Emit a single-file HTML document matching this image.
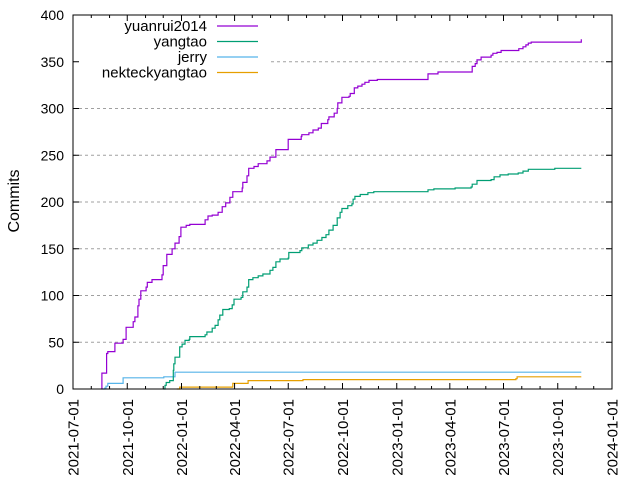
<!DOCTYPE html>
<html><head><meta charset="utf-8"><title>Commits</title>
<style>
html,body{margin:0;padding:0;background:#fff;}
svg{display:block;font-family:"Liberation Sans",Arial,sans-serif;}
</style></head>
<body>
<svg id="chart" width="640" height="480" viewBox="0 0 640 480" xmlns="http://www.w3.org/2000/svg">
<text x="0" y="0" transform="translate(19,201) rotate(-90)" text-anchor="middle" font-size="16" fill="#000">Commits</text>
</svg>
<script>
// x values are days since 2021-07-01
const startDate = "2021-07-01";
const totalDays = 914;
const xTickLabels = ["2021-07-01","2021-10-01","2022-01-01","2022-04-01","2022-07-01","2022-10-01","2023-01-01","2023-04-01","2023-07-01","2023-10-01","2024-01-01"];
const yTickValues = [0,50,100,150,200,250,300,350,400];
const seriesNames = ["yuanrui2014","yangtao","jerry","nekteckyangtao"];
const seriesColors = ["#9400d3","#009e73","#56b4e9","#e69f00"];
const endDay = 862;

const yuanruiDays = [49,49,57,59,71,85,90,102,105,110,112,115,124,126,134,151,153,159,168,173,180,183,192,198,224,229,236,246,253,259,266,271,287,288,295,298,307,314,329,334,344,365,387,388,400,407,416,421,432,434,443,448,449,456,468,470,477,483,490,495,502,516,602,619,677,682,685,692,709,712,719,726,756,763,768,772,777,862];
const yuanruiValues = [0,17,38,40,49,53,66,72,77,89,96,105,109,114,117,122,132,144,150,156,163,173,175,176,181,185,186,189,195,199,205,211,215,221,228,236,238,241,244,248,256,267,270,272,274,277,279,284,288,291,295,300,306,312,313,316,322,324,326,328,330,331,337,339,345,348,352,355,357,359,360,362,364,366,368,370,371,374];

const yangtaoDays = [153,156,158,164,170,171,173,181,185,190,197,198,224,227,236,241,246,249,254,265,270,273,285,288,295,298,305,314,322,334,339,344,351,365,366,385,388,399,407,414,422,429,434,441,448,453,456,466,473,475,478,487,500,510,602,612,648,675,677,685,709,714,724,738,755,763,772,817];
const yangtaoValues = [0,4,7,9,20,27,34,45,48,52,53,56,58,61,65,68,74,79,85,86,90,96,98,104,109,117,119,121,123,127,130,136,139,140,146,148,151,154,156,159,162,165,170,175,183,189,193,196,198,203,206,208,210,211,213,214,215,216,219,223,224,227,229,230,231,233,235,236];

const jerryDays = [48,54,56,59,85,154,173];
const jerryValues = [0,1,3,6,12,13,18];

const nekteckDays = [176,181,271,297,390,751,753];
const nekteckValues = [0,2,6,9,10,11,13];

const L=73,R=612,T=15,B=389;
const xScale = d => L + d/totalDays*(R-L);
const yScale = v => B - v/400*(B-T);
const NS="http://www.w3.org/2000/svg";
const svg=document.getElementById('chart');
function mk(tag,attrs,parent){const e=document.createElementNS(NS,tag);for(const k in attrs)e.setAttribute(k,attrs[k]);(parent||svg).appendChild(e);return e;}

yTickValues.forEach(v=>{
  if(v===0||v===400) return;
  const g=mk('line',{x1:L,x2:R,y1:yScale(v),y2:yScale(v),stroke:'#a0a0a0','stroke-width':1,'stroke-dasharray':'3,3'});
  
  
});

const allDays=[yuanruiDays,yangtaoDays,jerryDays,nekteckDays];
const allVals=[yuanruiValues,yangtaoValues,jerryValues,nekteckValues];
const seriesIds=['yuanrui2014','yangtao','jerry','nekteckyangtao'];
for(let s=3;s>=0;s--){
  const ds=allDays[s],vs=allVals[s];
  let p='M'+xScale(ds[0]).toFixed(1)+','+yScale(vs[0]).toFixed(1);
  for(let i=1;i<ds.length;i++){
    p+=' H'+xScale(ds[i]).toFixed(1)+' V'+yScale(vs[i]).toFixed(1);
  }
  p+=' H'+xScale(endDay).toFixed(1);
  const path=mk('path',{d:p,fill:'none',stroke:seriesColors[s],'stroke-width':1.2});
  
  
}

const lb=mk('rect',{x:L+1,y:T+1,width:195,height:66,fill:'#fff'});


seriesNames.forEach((n,i)=>{
  const y=26+i*15.5;
  const g=mk('g',{});
  
  
  const t=mk('text',{x:207,y:y+5,'text-anchor':'end','font-size':15,fill:'#000'},g);
  t.textContent=n;
  
  
  const ln=mk('line',{x1:217,x2:258,y1:y,y2:y,stroke:seriesColors[i],'stroke-width':1.2},g);
  
  
});

const fr=mk('rect',{x:L,y:T,width:R-L,height:B-T,fill:'none',stroke:'#000','stroke-width':1});



yTickValues.forEach(v=>{
  const y=yScale(v);
  const t1=mk('line',{x1:L,x2:L+6,y1:y,y2:y,stroke:'#000'});
  
  
  const t2=mk('line',{x1:R-6,x2:R,y1:y,y2:y,stroke:'#000'});
  
  
  const lab=mk('text',{x:64,y:y+5,'text-anchor':'end','font-size':14,fill:'#000'});
  lab.textContent=v;
  
  
});

function daysFromStart(y,m){return Math.round((Date.UTC(y,m,1)-Date.UTC(2021,6,1))/86400000);}
for(let k=0;k<=30;k++){
  const yr=2021+Math.floor((6+k)/12), mo=(6+k)%12;
  const d=daysFromStart(yr,mo);
  const x=xScale(d);
  const major=(k%3===0);
  const len=major?6:3;
  const a=mk('line',{x1:x,x2:x,y1:B,y2:B-len,stroke:'#000'});
  
  
  const b=mk('line',{x1:x,x2:x,y1:T,y2:T+len,stroke:'#000'});
  
  
}
xTickLabels.forEach(lbl=>{
  const parts=lbl.split('-');
  const d=daysFromStart(+parts[0],+parts[1]-1);
  const x=xScale(d);
  const t=mk('text',{x:0,y:0,transform:'translate('+(x+5.5)+',399) rotate(-90)','text-anchor':'end','font-size':15,fill:'#000'});
  t.textContent=lbl;
  
  
});
</script>
</body></html>
